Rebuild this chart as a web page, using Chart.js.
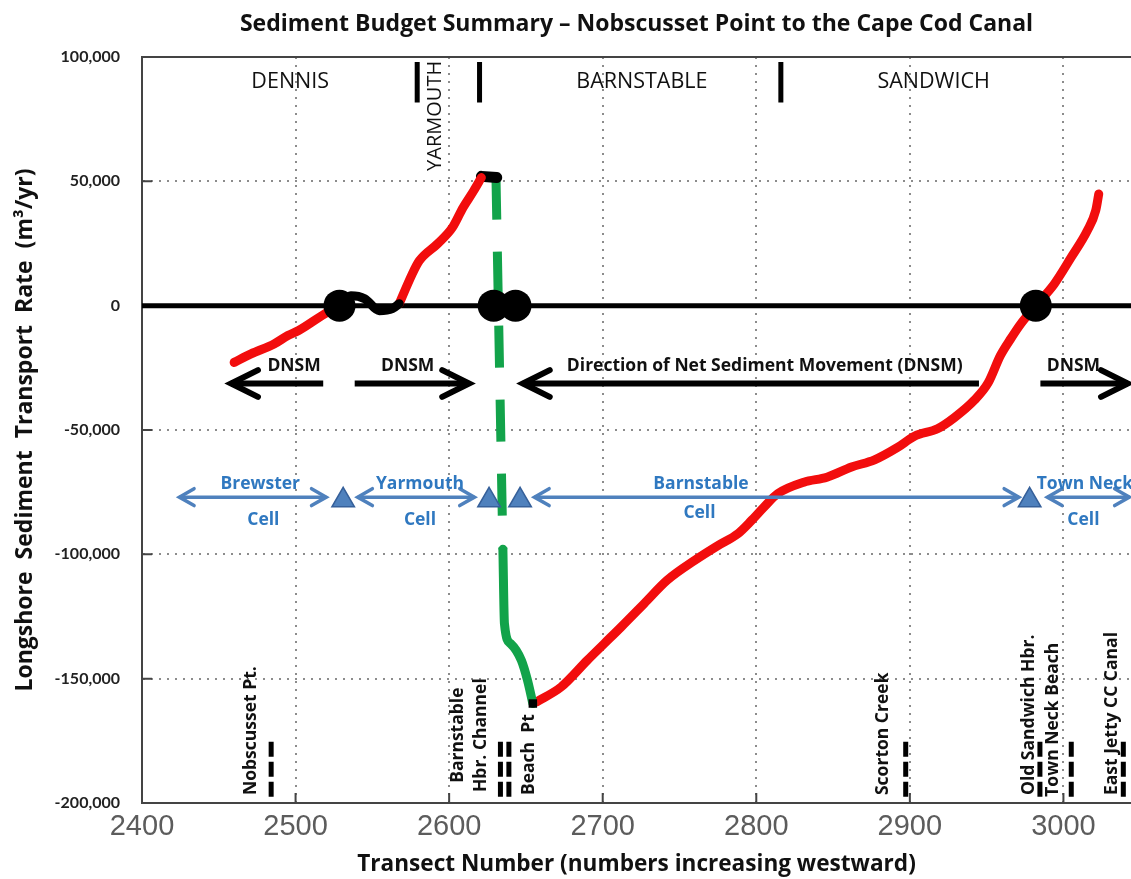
<!DOCTYPE html>
<html>
<head>
<meta charset="utf-8">
<title>Sediment Budget Summary</title>
<script src="https://cdn.jsdelivr.net/npm/chart.js@4.4.1/dist/chart.umd.min.js"></script>
<style>
  html, body { margin: 0; padding: 0; background: #fff; }
  #chart { display: block; }
</style>
</head>
<body>
<canvas id="chart" width="1131" height="879"></canvas>
<script>
const FONT = '"Open Sans", Lato, sans-serif';
const TICK_FONT = 'Lato, "Open Sans", sans-serif';
const RED = '#f20d0d';
const GREEN = '#12a34a';
const BLUE = '#4f81bd';
const BLUE_TEXT = '#2f78c0';

// axes
const xMin = 2400, xMax = 3044;
const yMin = -200000, yMax = 100000;
const transectTicks = [2400, 2500, 2600, 2700, 2800, 2900, 3000];
const rateTicks = [-200000, -150000, -100000, -50000, 0, 50000, 100000];

// net longshore transport rate (m3/yr) by transect
const dennisT = [2460, 2471, 2486, 2495, 2502, 2519, 2529];
const dennisQ = [-22800, -19400, -15400, -12000, -10000, -3300, 0];
const nullT = [2529, 2536, 2545, 2554.5, 2563, 2567.5];
const nullQ = [0, 4000, 2800, -2000, -1200, 800];
const yarmouthT = [2567.5, 2576, 2580.5, 2592.5, 2602, 2609, 2616, 2621];
const yarmouthQ = [800, 12800, 18000, 24900, 31300, 39400, 46200, 51500];
const crestT = [2621, 2631];
const crestQ = [52000, 51500];
const inletT = [2630.5, 2635];
const inletQ = [51500, -98000];
const shoalT = [2635, 2636, 2640, 2647, 2651, 2654.5];
const shoalQ = [-98000, -127800, -135900, -142600, -150600, -160000];
const westT = [2657, 2673, 2690, 2701, 2712, 2727, 2742, 2760, 2775, 2788, 2797, 2805, 2814, 2831,
  2846, 2862, 2877, 2892, 2903, 2918, 2929, 2942, 2951, 2959, 2966, 2972, 2982, 2994, 3005, 3015.5, 3021, 3023];
const westQ = [-159300, -153300, -142600, -135900, -129200, -119800, -110400, -102400, -96500, -91700, -86300,
  -81000, -75600, -71000, -69000, -64900, -62000, -57000, -52500, -49500, -45000, -38000, -31000, -20000,
  -13000, -7500, 0, 8700, 19400, 30100, 38200, 44900];
const beachPtT = [2654.5];
const beachPtQ = [-160000];

// nodal points and cell divides
const nodalT = [2528.6, 2629, 2643.2, 2982];
const divideT = [2531, 2626, 2646.2, 2978];
const divideQ = -78300;

// direction of net sediment movement arrows
const dnsmFrom = [2518, 2538.5, 2945, 2985];
const dnsmTo = [2458, 2613, 2648, 3042];
const dnsmQ = -31300;
const dnsmLabels = ['DNSM', 'DNSM', 'Direction of Net Sediment Movement (DNSM)', 'DNSM'];
const dnsmLabelT = [2499, 2573, 2805.5, 3006.5];
const dnsmLabelQ = -24100;

// littoral cells
const cellFrom = [2424.3, 2540.4, 2655.5, 2989.5];
const cellTo = [2520, 2616.5, 2971, 3043];
const cellQ = -77000;
const cellNames = ['Brewster', 'Yarmouth', 'Barnstable', 'Town Neck'];
const cellNameT = [2477, 2581, 2764, 3014];
const cellNameQ = -71700;
const cellWordT = [2479, 2581, 2763, 3013];
const cellWordQ = [-86300, -86300, -83500, -86300];

// towns
const townNames = ['DENNIS', 'BARNSTABLE', 'SANDWICH'];
const townNameT = [2496.5, 2725.5, 2915.5];
const townNameQ = 90000;
const townLineT = [2579.2, 2619.8, 2816];
const townLineQ = [98000, 81700];
const yarmouthLabelT = 2591.3;
const yarmouthLabelQ = 54200;

// landmarks along the shore
const landmarkT = [2484.1, 2633.4, 2638.9, 2897.3, 2984.7, 3005.1, 3039];
const landmarkQ = [-175400, -198100];
const placeNames = ['Nobscusset Pt.', 'Barnstable', 'Hbr. Channel', 'Beach  Pt', 'Scorton Creek',
  'Old Sandwich Hbr.', 'Town Neck Beach', 'East Jetty CC Canal'];
const placeT = [2471, 2605.7, 2620.8, 2652.2, 2882.2, 2977.5, 2993, 3031.5];
const placeQ = [-196800, -191900, -195600, -196800, -196800, -196800, -197500, -196800];

function pairs(xs, ys) {
  return xs.map((x, i) => ({ x, y: ys[i] }));
}

function curve(label, xs, ys, color, extra = {}) {
  return {
    label,
    data: pairs(xs, ys),
    showLine: true,
    borderColor: color,
    backgroundColor: color,
    borderWidth: 9,
    pointRadius: 0,
    borderCapStyle: 'round',
    borderJoinStyle: 'round',
    cubicInterpolationMode: 'monotone',
    order: 8,
    ...extra
  };
}

function segment(label, x0, x1, y0, y1, color, width, extra = {}) {
  return {
    label,
    data: [{ x: x0, y: y0 }, { x: x1, y: y1 }],
    showLine: true,
    borderColor: color,
    borderWidth: width,
    pointRadius: 0,
    borderCapStyle: 'butt',
    ...extra
  };
}

const datasets = [
  segment('zero', xMin, xMax, 0, 0, '#000', 5, { order: 12 }),
  ...dnsmFrom.map((t, i) => segment('DNSM', t, dnsmTo[i], dnsmQ, dnsmQ, '#000', 6, { order: 11 })),
  curve('Dennis', dennisT, dennisQ, RED),
  curve('Null reach', nullT, nullQ, '#000'),
  curve('Yarmouth', yarmouthT, yarmouthQ, RED),
  curve('Crest', crestT, crestQ, '#000', { borderWidth: 11 }),
  curve('Inlet', inletT, inletQ, GREEN, { borderDash: [42, 32], borderCapStyle: 'butt', cubicInterpolationMode: 'default' }),
  curve('Shoal', shoalT, shoalQ, GREEN),
  curve('Barnstable - Sandwich', westT, westQ, RED),
  { label: 'Beach Pt', data: pairs(beachPtT, beachPtQ), pointStyle: 'rect', pointRadius: 6, backgroundColor: '#000', borderWidth: 0, order: 7 },
  ...cellFrom.map((t, i) => segment('cell', t, cellTo[i], cellQ, cellQ, BLUE, 3.5, { order: 6 })),
  ...townLineT.map((t) => segment('town line', t, t, townLineQ[0], townLineQ[1], '#000', 5, { order: 6 })),
  ...landmarkT.map((t) => segment('landmark', t, t, landmarkQ[0], landmarkQ[1], '#000', 5, { order: 6, borderDash: [15, 5] })),
  { label: 'nodal', data: nodalT.map((x) => ({ x, y: 0 })), pointRadius: 16, backgroundColor: '#000', borderWidth: 0, order: 5 },
  { label: 'divide', data: divideT.map((x) => ({ x, y: divideQ })), pointStyle: 'triangle', pointRadius: 13,
    backgroundColor: BLUE, borderColor: '#36609a', borderWidth: 1.5, order: 4 }
];

function drawText(ctx, text, px, py, font, color, align = 'center', angle = 0) {
  ctx.save();
  ctx.translate(px, py);
  ctx.rotate(angle);
  ctx.font = font;
  ctx.fillStyle = color;
  ctx.textAlign = align;
  ctx.textBaseline = 'middle';
  ctx.fillText(text, 0, 0);
  ctx.restore();
}

const framePlugin = {
  id: 'frame',
  beforeDatasetsDraw(chart) {
    const { ctx, chartArea, scales: { x, y } } = chart;
    ctx.save();
    ctx.strokeStyle = '#444';
    ctx.lineWidth = 2;
    ctx.beginPath();
    ctx.moveTo(chartArea.left, chartArea.top);
    ctx.lineTo(chartArea.right, chartArea.top);
    rateTicks.forEach((v) => {
      const py = y.getPixelForValue(v);
      ctx.moveTo(chartArea.left, py);
      ctx.lineTo(chartArea.left + 10, py);
    });
    transectTicks.forEach((v) => {
      const px = x.getPixelForValue(v);
      ctx.moveTo(px, chartArea.bottom);
      ctx.lineTo(px, chartArea.bottom - 10);
    });
    ctx.stroke();
    ctx.restore();
  }
};

const annotationPlugin = {
  id: 'annotations',
  afterDatasetsDraw(chart) {
    const { ctx, scales: { x, y } } = chart;
    const head = (fromT, toT, q, len, spread) => {
      const tipX = x.getPixelForValue(toT);
      const tipY = y.getPixelForValue(q);
      const dir = Math.sign(toT - fromT);
      const dx = dir * len * Math.cos(spread);
      const dy = len * Math.sin(spread);
      ctx.beginPath();
      ctx.moveTo(tipX - dx, tipY - dy);
      ctx.lineTo(tipX, tipY);
      ctx.lineTo(tipX - dx, tipY + dy);
      ctx.stroke();
    };

    ctx.save();
    ctx.lineCap = 'round';
    ctx.lineJoin = 'miter';
    ctx.strokeStyle = '#000';
    ctx.lineWidth = 6;
    dnsmFrom.forEach((t, i) => head(t, dnsmTo[i], dnsmQ, 30, 0.46));
    ctx.strokeStyle = BLUE;
    ctx.lineWidth = 3.5;
    cellFrom.forEach((t, i) => {
      head(t, cellTo[i], cellQ, 17, 0.52);
      head(cellTo[i], t, cellQ, 17, 0.52);
    });
    ctx.restore();

    townNames.forEach((name, i) => drawText(ctx, name, x.getPixelForValue(townNameT[i]), y.getPixelForValue(townNameQ), `21.5px ${FONT}`, '#111'));
    drawText(ctx, 'YARMOUTH', x.getPixelForValue(yarmouthLabelT), y.getPixelForValue(yarmouthLabelQ), `20px ${FONT}`, '#111', 'left', -Math.PI / 2);

    dnsmLabels.forEach((label, i) => drawText(ctx, label, x.getPixelForValue(dnsmLabelT[i]), y.getPixelForValue(dnsmLabelQ), `bold 17.5px ${FONT}`, '#111'));

    cellNames.forEach((name, i) => {
      drawText(ctx, name, x.getPixelForValue(cellNameT[i]), y.getPixelForValue(cellNameQ), `bold 17.5px ${FONT}`, BLUE_TEXT);
      drawText(ctx, 'Cell', x.getPixelForValue(cellWordT[i]), y.getPixelForValue(cellWordQ[i]), `bold 17.5px ${FONT}`, BLUE_TEXT);
    });

    placeNames.forEach((name, i) => drawText(ctx, name, x.getPixelForValue(placeT[i]), y.getPixelForValue(placeQ[i]), `bold 17.5px ${FONT}`, '#111', 'left', -Math.PI / 2));
  }
};

new Chart(document.getElementById('chart'), {
  type: 'scatter',
  data: { datasets },
  plugins: [framePlugin, annotationPlugin],
  options: {
    responsive: false,
    animation: false,
    devicePixelRatio: 1,
    layout: { padding: 0, autoPadding: false },
    plugins: {
      legend: { display: false },
      tooltip: { enabled: false },
      title: {
        display: true,
        fullSize: false,
        text: 'Sediment Budget Summary \u2013 Nobscusset Point to the Cape Cod Canal',
        color: '#111',
        font: { family: FONT, size: 23, weight: 'bold' },
        padding: { top: 11, bottom: 18.4 }
      }
    },
    scales: {
      x: {
        type: 'linear',
        min: xMin,
        max: xMax,
        afterBuildTicks: (scale) => { scale.ticks = transectTicks.map((value) => ({ value })); },
        afterFit: (scale) => {
          scale.height = 76;
          scale.paddingLeft = 0;
          scale.paddingRight = 0;
        },
        ticks: {
          autoSkip: false,
          maxRotation: 0,
          padding: 7,
          color: '#5c5c5c',
          font: { family: '"Liberation Sans", Arial, sans-serif', size: 29 },
          callback: (value) => String(value)
        },
        grid: { color: '#8c8c8c', lineWidth: 2, drawTicks: false },
        border: { display: true, color: '#444', width: 2, dash: [2, 6] },
        title: {
          display: true,
          text: 'Transect Number (numbers increasing westward)',
          color: '#111',
          font: { family: FONT, size: 22.6, weight: 'bold' },
          padding: { top: 0, bottom: 1 }
        }
      },
      y: {
        min: yMin,
        max: yMax,
        afterBuildTicks: (scale) => { scale.ticks = rateTicks.map((value) => ({ value })); },
        afterFit: (scale) => { scale.width = 142; },
        ticks: {
          padding: 22,
          color: '#222',
          font: { family: TICK_FONT, size: 16, weight: 'bold' },
          callback: (value) => value.toLocaleString('en-US')
        },
        grid: { color: '#8c8c8c', lineWidth: 2, drawTicks: false },
        border: { display: true, color: '#444', width: 2, dash: [2, 6] },
        title: {
          display: true,
          text: 'Longshore  Sediment  Transport  Rate  (m\u00b3/yr)',
          color: '#111',
          font: { family: FONT, size: 23, weight: 'bold' },
          padding: { top: 12, bottom: 0 }
        }
      }
    }
  }
});
</script>
</body>
</html>
